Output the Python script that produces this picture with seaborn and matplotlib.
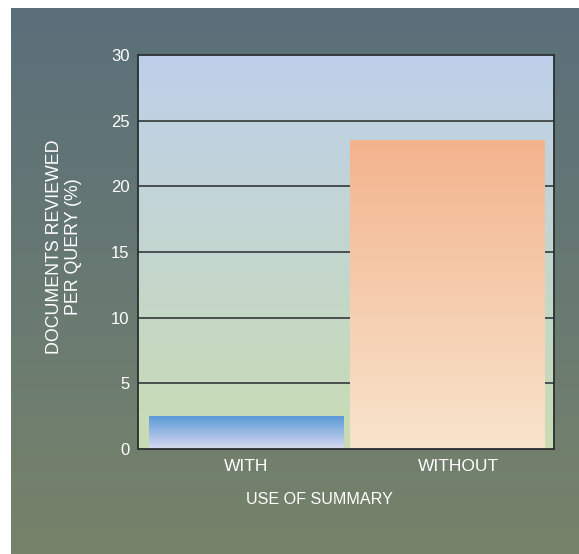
import numpy as np
import pandas as pd
import matplotlib
matplotlib.use("Agg")
import matplotlib.pyplot as plt
import matplotlib.transforms as mtransforms
from matplotlib.colors import LinearSegmentedColormap
import seaborn as sns

# Data
categories = ["WITH", "WITHOUT"]
docs_reviewed = [2.5, 23.5]
y_ticks = [0, 5, 10, 15, 20, 25, 30]

# Gradient colours (top -> bottom)
bar_gradients = [("#5A9AD8", "#DADAF0"), ("#F3B48D", "#F8E4CC")]
panel_gradient = ("#BED0EA", "#C9DCB3")
page_gradient = ("#5A6F7A", "#76836A")

sns.set_theme(style="white")
plt.rcParams["font.family"] = ["Liberation Sans", "DejaVu Sans"]

W, H = 579, 554
fig = plt.figure(figsize=(W / 100, H / 100), dpi=100, facecolor="white")


def vgradient(top, bottom, n=256):
    cmap = LinearSegmentedColormap.from_list("g", [bottom, top])
    return cmap, np.linspace(0, 1, n).reshape(-1, 1)


# Page backdrop
bg = fig.add_axes([11 / W, 0, (W - 11) / W, (H - 8) / H], zorder=-2)
cmap, grad = vgradient(*page_gradient)
bg.imshow(grad, cmap=cmap, aspect="auto", origin="lower", extent=[0, 1, 0, 1])
bg.set_axis_off()

# Plot panel
ax = fig.add_axes([138 / W, (H - 449) / H, (554 - 138) / W, (449 - 55) / H])
ax.set_facecolor("none")
df = pd.DataFrame({"use": categories, "docs": docs_reviewed})
sns.barplot(data=df, x="use", y="docs", ax=ax, width=0.965, color="white",
            edgecolor="none", saturation=1, zorder=3)
XLIM = (-0.537, 1.53)
ax.set_xlim(*XLIM)
ax.set_ylim(0, 30)

# Panel gradient fill
cmap, grad = vgradient(*panel_gradient)
ax.imshow(grad, cmap=cmap, aspect="auto", origin="lower",
          extent=[XLIM[0], XLIM[1], 0, 30], zorder=0)

# Gradient fill inside each bar
for patch, (top, bottom) in zip(ax.patches, bar_gradients):
    x0, y0 = patch.get_x(), patch.get_y()
    w, h = patch.get_width(), patch.get_height()
    cmap, grad = vgradient(top, bottom)
    im = ax.imshow(grad, cmap=cmap, aspect="auto", origin="lower",
                   extent=[x0, x0 + w, y0, y0 + h], zorder=3)
    im.set_clip_path(patch)
    patch.set_facecolor("none")

ax.set_aspect("auto")
ax.set_xlim(*XLIM)
ax.set_ylim(0, 30)

# Grid lines
ax.set_yticks(y_ticks)
for v in y_ticks[1:-1]:
    ax.axhline(v, color="#3E4548", lw=1.3, zorder=1)

for side in ["left", "bottom", "top", "right"]:
    ax.spines[side].set_color("#2A2F31")
    ax.spines[side].set_linewidth(1.3)
    ax.spines[side].set_zorder(4)

ax.tick_params(axis="y", length=0, pad=6, labelsize=12, labelcolor="white")
ax.tick_params(axis="x", length=0, pad=7, labelsize=12.5, labelcolor="white")
ax.set_xlabel("")
ax.set_ylabel("")

# Nudge the second category label slightly to the right
lbls = ax.get_xticklabels()
lbls[1].set_transform(lbls[1].get_transform() +
                      mtransforms.ScaledTranslation(11 / 100, 0, fig.dpi_scale_trans))

# Axis titles
fig.text(64 / W, 1 - 247 / H, "DOCUMENTS REVIEWED\nPER QUERY (%)", rotation=90,
         ha="center", va="center", multialignment="center", color="white",
         fontsize=12.8, linespacing=1.1)
fig.text(319 / W, 1 - 500 / H, "USE OF SUMMARY", ha="center", va="center",
         color="white", fontsize=11.6)

fig.savefig("out.png", dpi=100, facecolor="white")
